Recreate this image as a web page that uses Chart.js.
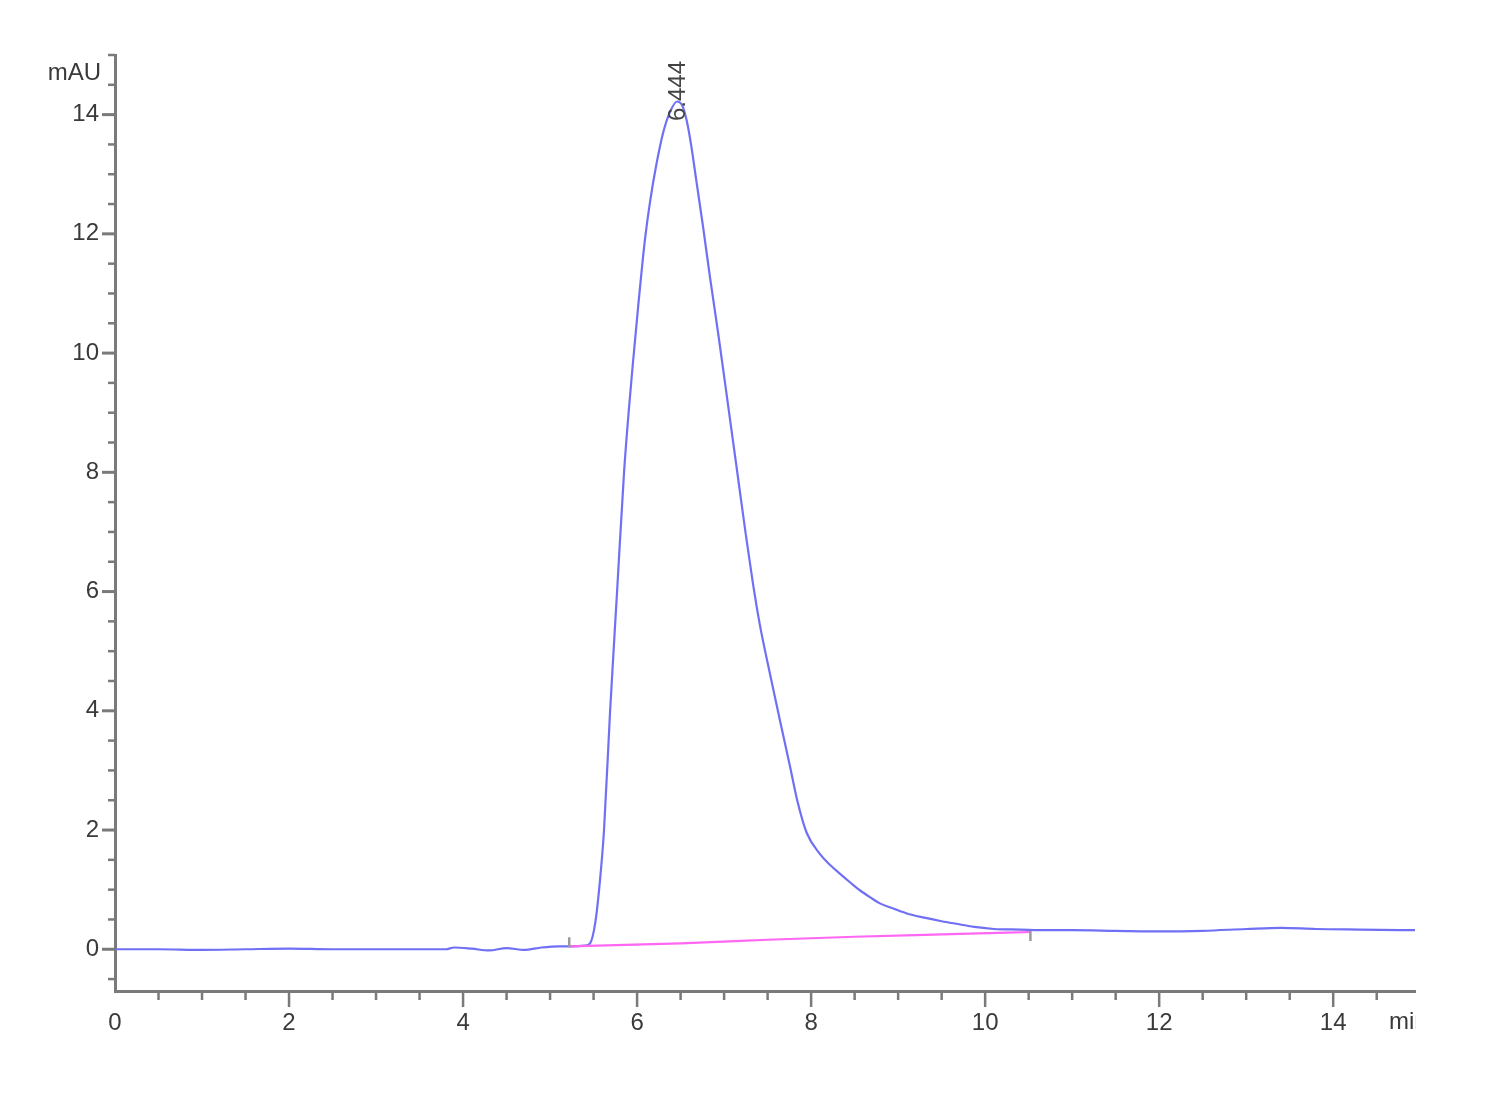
<!DOCTYPE html>
<html>
<head>
<meta charset="utf-8">
<script src="https://cdn.jsdelivr.net/npm/chart.js@4.4.1/dist/chart.umd.min.js"></script>
<style>
html,body{margin:0;padding:0;background:#fff;}
#wrap{width:1500px;height:1100px;}
</style>
</head>
<body>
<div id="wrap"><canvas id="c" width="1500" height="1100"></canvas></div>
<script>
// ---- data ----
const timeMin = [0, 0.5, 1.0, 1.5, 2.0, 2.5, 3.0, 3.5, 3.8, 3.9, 4.1, 4.3, 4.5, 4.7, 4.9, 5.1, 5.25, 5.4,
  5.46, 5.52, 5.57, 5.62, 5.69, 5.77, 5.85, 5.95, 6.02, 6.09, 6.15, 6.22, 6.3, 6.38, 6.46, 6.52, 6.57, 6.62, 6.68,
  6.76, 6.84, 6.93, 7.02, 7.1, 7.17, 7.25, 7.33, 7.41, 7.53, 7.64, 7.76, 7.84, 7.95, 8.1, 8.2, 8.33, 8.45,
  8.56, 8.68, 8.79, 8.95, 9.1, 9.3, 9.5, 9.7, 9.9, 10.1, 10.4, 10.7, 11.0, 11.5, 12.0, 12.5, 13.0, 13.4,
  13.8, 14.3, 14.94];
const signalMAU = [0.0, 0.0, -0.01, 0.0, 0.01, 0.0, 0.0, 0.0, 0.0, 0.03, 0.01, -0.02, 0.02, -0.01, 0.03, 0.05, 0.05, 0.06,
  0.1, 0.45, 1.1, 2.0, 4.0, 6.0, 8.0, 9.8, 10.9, 11.9, 12.55, 13.15, 13.7, 14.05, 14.22, 14.15, 13.9, 13.5, 12.9,
  12.1, 11.25, 10.35, 9.4, 8.55, 7.8, 6.95, 6.15, 5.45, 4.6, 3.85, 3.05, 2.5, 1.95, 1.6, 1.44, 1.27, 1.12,
  0.99, 0.87, 0.77, 0.68, 0.6, 0.53, 0.47, 0.42, 0.37, 0.34, 0.33, 0.32, 0.32, 0.31, 0.30, 0.31, 0.34, 0.36,
  0.34, 0.33, 0.32];
const baselineTime = [5.22, 6.5, 7.5, 8.5, 9.5, 10.52];
const baselineMAU = [0.05, 0.10, 0.16, 0.21, 0.25, 0.29];
const peakTime = 6.444;
const peakLabel = "6.444";
const xMajorTicks = [0, 2, 4, 6, 8, 10, 12, 14];
const yMajorTicks = [0, 2, 4, 6, 8, 10, 12, 14];
const xUnit = "min";
const yUnit = "mAU";

const FONT = "'Liberation Sans Narrow', 'Liberation Sans', Arial, sans-serif";
const TEXT = '#3a3a3a';
const AXIS = '#7a7a7a';

const deco = {
  id: 'deco',
  afterDraw(chart) {
    const ctx = chart.ctx, x = chart.scales.x, y = chart.scales.y, ca = chart.chartArea;
    ctx.save();
    ctx.strokeStyle = AXIS;
    // y ticks
    for (let v = -0.5; v <= 15; v += 0.5) {
      const py = y.getPixelForValue(v);
      const major = yMajorTicks.includes(v);
      ctx.lineWidth = major ? 3 : 2.5;
      ctx.beginPath(); ctx.moveTo(ca.left, py); ctx.lineTo(ca.left - (major ? 13 : 7), py); ctx.stroke();
    }
    // x ticks
    for (let v = 0.5; v <= 14.9; v += 0.5) {
      const px = x.getPixelForValue(v);
      const major = xMajorTicks.includes(v);
      ctx.lineWidth = 2.5;
      ctx.beginPath(); ctx.moveTo(px, ca.bottom); ctx.lineTo(px, ca.bottom + (major ? 16 : 9)); ctx.stroke();
    }
    // baseline end markers
    ctx.strokeStyle = '#9a9a9a'; ctx.lineWidth = 2.5;
    const b0x = x.getPixelForValue(baselineTime[0]), b0y = y.getPixelForValue(baselineMAU[0]);
    const b1x = x.getPixelForValue(baselineTime[baselineTime.length - 1]), b1y = y.getPixelForValue(baselineMAU[baselineMAU.length - 1]);
    ctx.beginPath(); ctx.moveTo(b0x, b0y - 9); ctx.lineTo(b0x, b0y + 1); ctx.stroke();
    ctx.beginPath(); ctx.moveTo(b1x, b1y - 1); ctx.lineTo(b1x, b1y + 9); ctx.stroke();
    // unit labels
    ctx.fillStyle = TEXT;
    ctx.font = '24px ' + FONT;
    ctx.textAlign = 'right'; ctx.textBaseline = 'middle';
    ctx.fillText(yUnit, ca.left - 14, 73);
    ctx.save();
    ctx.beginPath(); ctx.rect(0, ca.bottom + 2, ca.right + 1, 60); ctx.clip();
    ctx.textAlign = 'left';
    ctx.fillText(xUnit, ca.right - 26, ca.bottom + 31);
    ctx.restore();
    // peak label (rotated)
    const pk = x.getPixelForValue(peakTime);
    ctx.translate(pk + 3, 121);
    ctx.rotate(-Math.PI / 2);
    ctx.font = '24px ' + FONT;
    ctx.fillStyle = '#444';
    ctx.textAlign = 'left'; ctx.textBaseline = 'middle';
    ctx.fillText(peakLabel, 0, 0);
    ctx.restore();
  }
};

new Chart(document.getElementById('c'), {
  type: 'line',
  data: {
    datasets: [
      {
        data: timeMin.map((t, i) => ({x: t, y: signalMAU[i]})),
        borderColor: '#7070f5', borderWidth: 2.2, pointRadius: 0,
        cubicInterpolationMode: 'monotone', fill: false, order: 2
      },
      {
        data: baselineTime.map((t, i) => ({x: t, y: baselineMAU[i]})),
        borderColor: '#ff66f2', borderWidth: 2.2, pointRadius: 0,
        cubicInterpolationMode: 'monotone', fill: false, order: 1
      }
    ]
  },
  options: {
    responsive: false, animation: false, devicePixelRatio: 1,
    layout: {padding: {top: 55, right: 85, left: 0, bottom: 0}},
    plugins: {legend: {display: false}, tooltip: {enabled: false}},
    scales: {
      x: {
        type: 'linear', min: 0, max: 14.94,
        afterBuildTicks: s => { s.ticks = xMajorTicks.map(v => ({value: v})); },
        afterFit: s => { s.height = 109; },
        grid: {display: false},
        border: {display: true, color: AXIS, width: 3},
        ticks: {color: TEXT, font: {family: FONT, size: 24}, padding: 10, maxRotation: 0, autoSkip: false,
          callback: v => String(v)}
      },
      y: {
        type: 'linear', min: -0.7, max: 15,
        afterBuildTicks: s => { s.ticks = yMajorTicks.map(v => ({value: v})); },
        afterFit: s => { s.width = 115; },
        grid: {display: false},
        border: {display: true, color: AXIS, width: 3},
        ticks: {color: TEXT, font: {family: FONT, size: 24}, padding: 8, autoSkip: false,
          callback: v => String(v)}
      }
    }
  },
  plugins: [deco]
});
</script>
</body>
</html>
